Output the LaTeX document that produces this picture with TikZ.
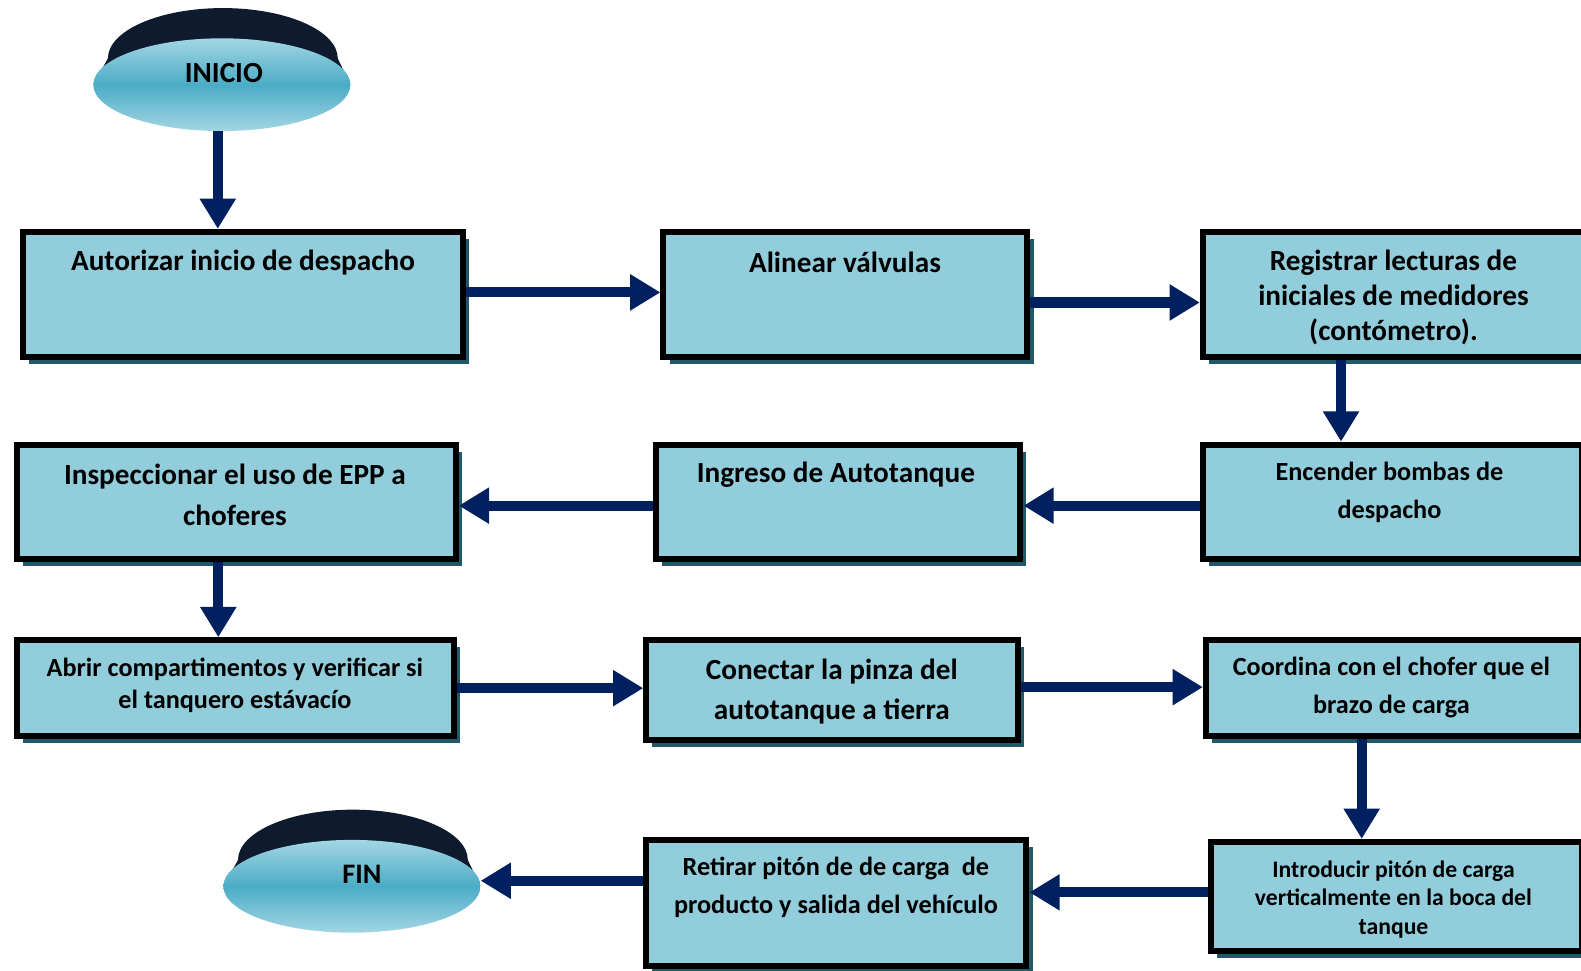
\documentclass[tikz,border=0pt]{standalone}
\usepackage{fontspec}
\setmainfont{Carlito}
\usetikzlibrary{calc,positioning,shapes.geometric,shadows,arrows.meta}
\definecolor{boxfill}{HTML}{92CDDC}
\definecolor{boxshade}{HTML}{215968}
\definecolor{flownavy}{HTML}{002060}
\definecolor{disctop}{HTML}{0E1B2E}
\definecolor{disclight}{HTML}{A3D6E3}
\definecolor{discmid}{HTML}{4BACC6}
\tikzset{
    process/.style={draw=black,line width=6pt,fill=boxfill,inner sep=0pt,
        drop shadow={shadow xshift=6pt,shadow yshift=-7pt,fill=boxshade,opacity=1}},
    box text/.style 2 args={align=center,inner sep=0pt,
        font=\bfseries\fontsize{#1}{#2}\selectfont},
    flow/.style={line width=10pt,flownavy,-{Triangle[width=34pt,length=30pt]}},
    terminal/.style={ellipse,minimum width=255pt,minimum height=92pt,inner sep=0pt,
        top color=disclight,bottom color=disclight,middle color=discmid}
}

\begin{document}
\begin{tikzpicture}[x=1pt,y=-1pt]
\useasboundingbox (0,0) rectangle (1568,963);
\clip (0,0) rectangle (1568,963);

% discs
\fill[disctop] (221,58) ellipse (114 and 50);
\fill[disctop] (92.5,84) -- (107,58) -- (335,58) -- (347.5,84) -- cycle;
\node[terminal] (inicio) at (220,84) {};
\node[box text={29}{35}] (tinicio) at (222,72) {INICIO};

\fill[disctop] (350,853) ellipse (114 and 50);
\fill[disctop] (221.5,879) -- (236,853) -- (464,853) -- (476.5,879) -- cycle;
\node[terminal] (fin) at (349,879) {};
\node[box text={28}{34}] (tfin) at (359,867) {FIN};

% boxes
\node[process,minimum width=436pt,minimum height=124pt] (autorizar) at (241,292) {};
\node[box text={29}{35}] (tautorizar) at (241,260) {Autorizar inicio de despacho};

\node[process,minimum width=361pt,minimum height=124pt] (alinear) at (838.5,292) {};
\node[box text={29}{35}] (talinear) at (838,260) {Alinear válvulas};

\node[process,minimum width=378pt,minimum height=124pt] (registrar) at (1382,292) {};
\node[box text={29}{35}] (tregistrar) at (1382,295) {Registrar lecturas de\\ iniciales de medidores\\ (contómetro).};

\node[process,minimum width=376pt,minimum height=113pt] (encender) at (1381,497.5) {};
\node[box text={26}{38}] (tencender) at (1378,488) {Encender bombas de\\ despacho};

\node[process,minimum width=361pt,minimum height=113pt] (ingreso) at (831.5,497.5) {};
\node[box text={29}{35}] (tingreso) at (829,471) {Ingreso de Autotanque};

\node[process,minimum width=435pt,minimum height=113pt] (inspeccionar) at (234.5,497.5) {};
\node[box text={29}{41}] (tinspeccionar) at (233,491) {Inspeccionar el uso de EPP a\\ choferes};

\node[process,minimum width=433pt,minimum height=95pt] (abrir) at (233.5,682.5) {};
\node[box text={26}{32}] (tabrir) at (233,680) {Abrir compartimentos y verificar si\\ el tanquero estávacío};

\node[process,minimum width=369pt,minimum height=99pt] (conectar) at (825.5,684.5) {};
\node[box text={29}{40}] (tconectar) at (825,686) {Conectar la pinza del\\ autotanque a tierra};

\node[process,minimum width=373pt,minimum height=95pt] (coordina) at (1382.5,682.5) {};
\node[box text={26}{37}] (tcoordina) at (1380,682) {Coordina con el chofer que el\\ brazo de carga};

\node[process,minimum width=368pt,minimum height=108pt] (introducir) at (1385,889) {};
\node[box text={23.5}{28.5}] (tintroducir) at (1382,892) {Introducir pitón de carga\\ verticalmente en la boca del\\ tanque};

\node[process,minimum width=377pt,minimum height=125pt] (retirar) at (829.5,895.5) {};
\node[box text={26}{37}] (tretirar) at (829,880) {Retirar pitón de de carga\ \ de\\ producto y salida del vehículo};

% arrows
\draw[flow] ([xshift=-4pt]inicio.south) -- ([xshift=-4pt]inicio.south |- autorizar.north);
\draw[flow] ([yshift=2pt]autorizar.east) -- ([yshift=2pt]autorizar.east -| alinear.west);
\draw[flow] ([yshift=-8pt]alinear.east) -- ([yshift=-8pt]alinear.east -| registrar.west);
\draw[flow] ([xshift=-52pt]registrar.south) -- ([xshift=-52pt]registrar.south |- encender.north);
\draw[flow] ([yshift=-4pt]encender.west) -- ([yshift=-4pt]encender.west -| ingreso.east);
\draw[flow] ([yshift=-4pt]ingreso.west) -- ([yshift=-4pt]ingreso.west -| inspeccionar.east);
\draw[flow] ([xshift=-18pt]inspeccionar.south) -- ([xshift=-18pt]inspeccionar.south |- abrir.north);
\draw[flow] (abrir.east) -- (abrir.east -| conectar.west);
\draw[flow] ([yshift=3pt]conectar.east) -- ([yshift=3pt]conectar.east -| coordina.west);
\draw[flow] ([xshift=-32pt]coordina.south) -- ([xshift=-32pt]coordina.south |- introducir.north);
\draw[flow] ([yshift=4pt]introducir.west) -- ([yshift=4pt]introducir.west -| retirar.east);
\draw[flow] ([yshift=22pt]retirar.west) -- ([yshift=22pt]retirar.west -| fin.east);

\end{tikzpicture}
\end{document}
